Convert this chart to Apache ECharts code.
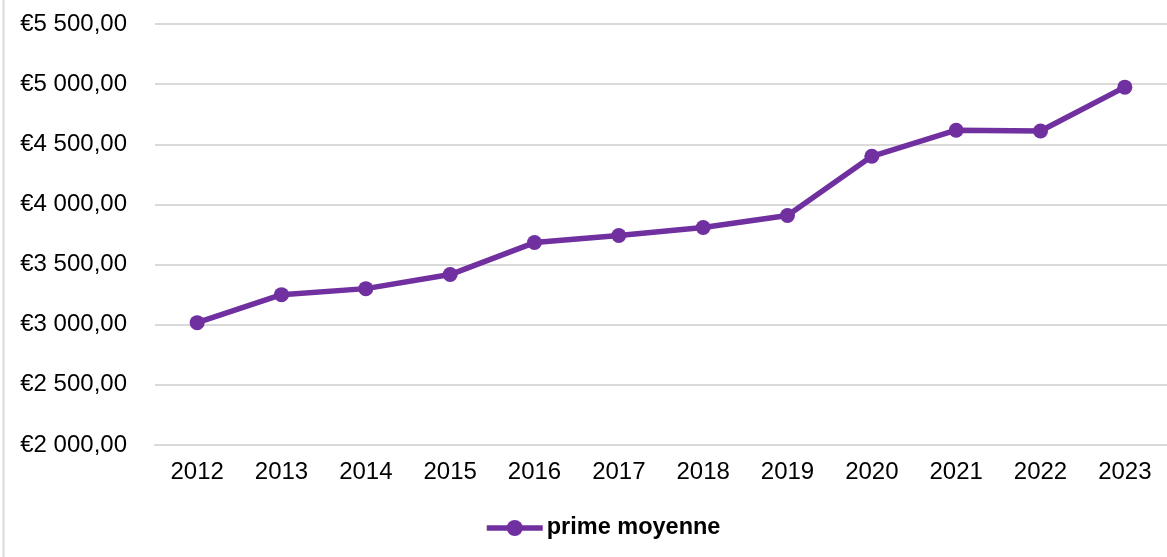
<!DOCTYPE html>
<html>
<head>
<meta charset="utf-8">
<script src="https://cdn.jsdelivr.net/npm/echarts@6/dist/echarts.min.js"></script>
<style>
  html, body { margin: 0; padding: 0; background: #fff; }
  #grafiek { width: 1167px; height: 557px; }
</style>
</head>
<body>
<div id="grafiek"></div>
<script>
// jaren en gemiddelde premie
const jaren = ['2012', '2013', '2014', '2015', '2016', '2017', '2018', '2019', '2020', '2021', '2022', '2023'];
const primeMoyenne = [3017, 3250, 3300, 3417, 3683, 3742, 3808, 3908, 4400, 4617, 4610, 4975];
const reeksNaam = 'prime moyenne';

// bedrag formatteren als €5 500,00
function euro(v) {
    let s = String(Math.round(v)).replace(/\B(?=(\d{3})+(?!\d))/g, ' ');
    return '€' + s + ',00';
}

const paars = '#7030A0';
const grijs = '#d9d9d9';
const fonts = 'Liberation Sans, Arial, sans-serif';

let grafiek = echarts.init(document.getElementById('grafiek'));
let option = {
    backgroundColor: '#fff',
    animation: false,
    textStyle: { fontFamily: fonts },
    graphic: [
        {
            type: 'line',
            shape: { x1: 3.5, y1: 0, x2: 3.5, y2: 557 },
            style: { stroke: grijs, lineWidth: 2 }
        }
    ],
    grid: { left: 155, right: 0, top: 24, bottom: 112, containLabel: false },
    legend: {
        data: [reeksNaam],
        left: 484,
        top: 516,
        padding: 0,
        itemWidth: 56,
        itemHeight: 20,
        itemGap: 4,
        lineStyle: { width: 5.5 },
        textStyle: { fontSize: 23.5, fontWeight: 'bold', color: '#000', fontFamily: fonts, padding: [0, 0, 0, -1] }
    },
    xAxis: {
        type: 'category',
        data: jaren,
        boundaryGap: true,
        axisLine: { show: true, lineStyle: { color: grijs, width: 2 } },
        axisTick: { show: false },
        axisLabel: { color: '#000', fontSize: 24, margin: 15, fontFamily: fonts }
    },
    yAxis: {
        type: 'value',
        min: 2000,
        max: 5500,
        interval: 500,
        axisLine: { show: false },
        axisTick: { show: false },
        splitLine: { lineStyle: { color: grijs, width: 2 } },
        axisLabel: { color: '#000', fontSize: 24, margin: 28, fontFamily: fonts, formatter: euro }
    },
    series: [
        {
            name: reeksNaam,
            type: 'line',
            data: primeMoyenne,
            symbol: 'circle',
            symbolSize: 15,
            lineStyle: { color: paars, width: 5.5 },
            itemStyle: { color: paars }
        }
    ]
};
grafiek.setOption(option);
</script>
</body>
</html>
